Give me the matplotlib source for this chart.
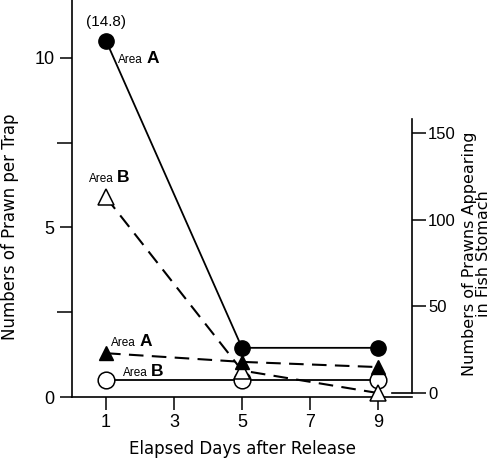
import numpy as np
import matplotlib
matplotlib.use("Agg")
import matplotlib.pyplot as plt

plt.rcParams['font.family'] = ['Liberation Sans', 'DejaVu Sans']

# data
days = [1, 5, 9]
trap_A = [14.8, 1.45, 1.45]      # prawns per trap, Area A (first value off scale)
trap_B = [0.5, 0.5, 0.5]         # prawns per trap, Area B
stomach_A = [23, 18, 15]         # prawns in fish stomach, Area A
stomach_B = [113, 13, 0]         # prawns in fish stomach, Area B
trap_cap = 10.5                  # where the off-scale point is drawn

xticks = [1, 3, 5, 7, 9]
left_ticks = [0, 5, 10]
left_minor = [2.5, 7.5]
right_ticks = [0, 50, 100, 150]

fig = plt.figure(figsize=(4.97, 4.66), dpi=100)
ax = fig.add_axes([0.145, 0.148, 0.684, 0.852])
ax2 = ax.twinx()

ax.set_xlim(0, 10)
ax.set_ylim(0, 11.7)
ax2.set_ylim(-2.3, 227)

for s in ['top', 'right']:
    ax.spines[s].set_visible(False)
for s in ['top', 'left', 'bottom']:
    ax2.spines[s].set_visible(False)
ax2.spines['right'].set_bounds(0, 158)
ax2.axhline(0, xmin=0.94, xmax=1.0, color='k', lw=1.2)

for sp in ax.spines.values():
    sp.set_linewidth(1.2)
ax2.spines['right'].set_linewidth(1.2)

ax.set_xticks(xticks)
ax.set_yticks(left_ticks)
ax.set_yticks(left_minor, minor=True)
ax.tick_params(axis='both', which='both', direction='out', length=9, width=1.1, labelsize=13)
ax.tick_params(axis='y', which='minor', length=11)
ax2.set_yticks(right_ticks)
ax2.tick_params(axis='y', direction='out', length=10, width=1.1, labelsize=12, pad=1.5)

# lines
ax.plot(days, np.minimum(trap_A, trap_cap), '-', color='k', lw=1.3,
        marker='o', ms=11, mfc='k', mec='k', zorder=4, clip_on=False)
ax.plot(days, trap_B, '-', color='k', lw=1.3,
        marker='o', ms=12, mfc='white', mec='k', mew=1.1, zorder=5, clip_on=False)
ax2.plot(days, stomach_A, '--', color='k', lw=1.5, dashes=(7, 4),
         marker='^', ms=10, mfc='k', mec='k', zorder=4, clip_on=False)
ax2.plot(days, stomach_B, '--', color='k', lw=1.5, dashes=(7, 4),
         marker='^', ms=11, mfc='white', mec='k', mew=1.1, zorder=3, clip_on=False)


def area_label(axis, x, y, letter):
    t = axis.text(x, y, 'Area', fontsize=8.5, ha='left', va='baseline')
    axis.annotate(letter, xy=(1, 0), xycoords=t, xytext=(2.5, 0),
                  textcoords='offset points', fontsize=12.5, fontweight='bold',
                  ha='left', va='bottom')


ax.text(1, 11.05, '(%.1f)' % trap_A[0], fontsize=11, ha='center', va='center')
area_label(ax, 1.35, 9.85, 'A')
area_label(ax, 0.5, 6.35, 'B')
area_label(ax, 1.15, 1.5, 'A')
area_label(ax, 1.5, 0.62, 'B')

lab = dict(family='DejaVu Sans', fontsize=12)
ax.set_xlabel('Elapsed Days after Release', labelpad=6, **lab)
ax.set_ylabel('Numbers of Prawn per Trap', **lab)
ax.yaxis.set_label_coords(-0.155, 0.43)
ax2.set_ylabel('Numbers of Prawns Appearing\nin Fish Stomach',
               linespacing=0.9, family='DejaVu Sans', fontsize=11.5)
ax2.yaxis.set_label_coords(1.148, 0.36)

fig.savefig('out.png', dpi=100)
